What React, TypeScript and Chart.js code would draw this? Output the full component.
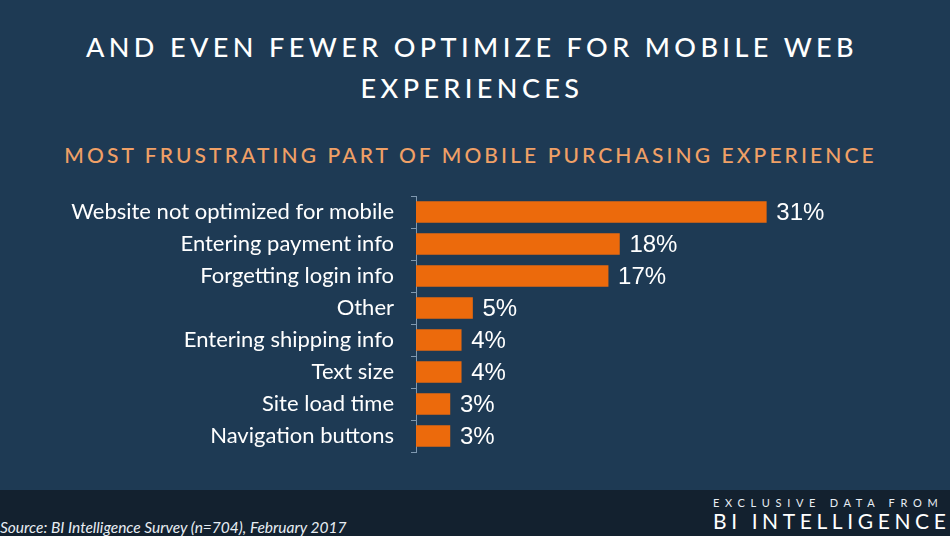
import React, { useEffect, useRef } from "react";
import { Chart, registerables } from "chart.js";

Chart.register(...registerables);

const titleLines = ["AND EVEN FEWER OPTIMIZE FOR MOBILE WEB", "EXPERIENCES"];
const subtitle = "MOST FRUSTRATING PART OF MOBILE PURCHASING EXPERIENCE";
const categories = [
  "Website not optimized for mobile",
  "Entering payment info",
  "Forgetting login info",
  "Other",
  "Entering shipping info",
  "Text size",
  "Site load time",
  "Navigation buttons",
];
const values = [31, 18, 17, 5, 4, 4, 3, 3];
const valueLabels = ["31%", "18%", "17%", "5%", "4%", "4%", "3%", "3%"];
const sourceText = "Source: BI Intelligence Survey (n=704), February 2017";
const brandTop = "EXCLUSIVE DATA FROM";
const brandName = "BI INTELLIGENCE";

const BG = "#1e3a54";
const FOOT = "#13212f";
const BAR = "#ec6a0c";
const AXIS = "#7f98b0";

const valueLabelPlugin = {
  id: "valueLabels",
  afterDatasetsDraw(chart: any) {
    const ctx = chart.ctx;
    const meta = chart.getDatasetMeta(0);
    ctx.save();
    ctx.fillStyle = "#ffffff";
    ctx.font = "24px 'Liberation Sans', Arial, sans-serif";
    ctx.textBaseline = "middle";
    ctx.textAlign = "left";
    meta.data.forEach((bar: any, i: number) => {
      ctx.fillText(valueLabels[i], bar.x + 10, bar.y + 1);
    });
    ctx.restore();
  },
};

export default function App() {
  const canvasRef = useRef<HTMLCanvasElement | null>(null);

  useEffect(() => {
    if (!canvasRef.current) return;
    const chart = new Chart(canvasRef.current, {
      type: "bar",
      data: {
        labels: categories,
        datasets: [
          {
            data: values,
            backgroundColor: BAR,
            borderWidth: 0,
            barThickness: 21,
          },
        ],
      },
      options: {
        indexAxis: "y",
        animation: false,
        responsive: false,
        devicePixelRatio: 1,
        layout: { padding: { top: 16, bottom: 18, left: 0, right: 82 } },
        plugins: {
          legend: { display: false },
          tooltip: { enabled: false },
          title: { display: false },
        },
        scales: {
          x: { display: false, min: 0, max: 40 },
          y: {
            afterFit: (s: any) => {
              s.width = 416;
              s.paddingTop = 0;
              s.paddingBottom = 0;
            },
            ticks: {
              color: "#ffffff",
              font: { family: "Lato, 'Open Sans', sans-serif", size: 22 },
              padding: 17,
            },
            grid: {
              display: true,
              drawOnChartArea: false,
              color: AXIS,
              tickLength: 5,
              offset: true,
            },
            border: { display: true, color: AXIS, width: 1 },
          },
        },
      },
      plugins: [valueLabelPlugin],
    });
    return () => chart.destroy();
  }, []);

  return (
    <div
      style={{
        position: "fixed",
        left: 0,
        top: 0,
        width: 950,
        height: 536,
        background: BG,
        overflow: "hidden",
        fontFamily: "Lato, sans-serif",
      }}
    >
      <div
        style={{
          position: "absolute",
          top: 26,
          left: -5,
          width: 950,
          textAlign: "center",
          color: "#ffffff",
          fontSize: 27,
          lineHeight: "41px",
          fontWeight: 500,
          letterSpacing: "4.4px",
          paddingLeft: 4,
          boxSizing: "border-box",
        }}
      >
        {titleLines.map((l, i) => (
          <div key={i}>{l}</div>
        ))}
      </div>
      <div
        style={{
          position: "absolute",
          top: 140,
          left: -6,
          width: 950,
          textAlign: "center",
          color: "#f0a066",
          fontSize: 21,
          lineHeight: "30px",
          fontWeight: 500,
          letterSpacing: "3.1px",
          paddingLeft: 3,
          boxSizing: "border-box",
        }}
      >
        {subtitle}
      </div>
      <canvas
        ref={canvasRef}
        width={950}
        height={290}
        style={{ position: "absolute", left: 0, top: 180, width: 950, height: 290 }}
      />
      <div
        style={{
          position: "absolute",
          left: 0,
          top: 490,
          width: 950,
          height: 46,
          background: FOOT,
        }}
      >
        <div
          style={{
            position: "absolute",
            left: 0,
            top: 28,
            color: "#e8eef4",
            fontSize: 15.5,
            fontStyle: "italic",
            whiteSpace: "nowrap",
          }}
        >
          {sourceText}
        </div>
        <div
          style={{
            position: "absolute",
            left: 713,
            top: 6,
            color: "#e8eef4",
            fontSize: 11,
            lineHeight: "14px",
            letterSpacing: "5.7px",
            whiteSpace: "nowrap",
          }}
        >
          {brandTop}
        </div>
        <div
          style={{
            position: "absolute",
            left: 713,
            top: 18,
            color: "#ffffff",
            fontSize: 21,
            lineHeight: "25px",
            letterSpacing: "4.6px",
            whiteSpace: "nowrap",
          }}
        >
          {brandName}
        </div>
      </div>
    </div>
  );
}
